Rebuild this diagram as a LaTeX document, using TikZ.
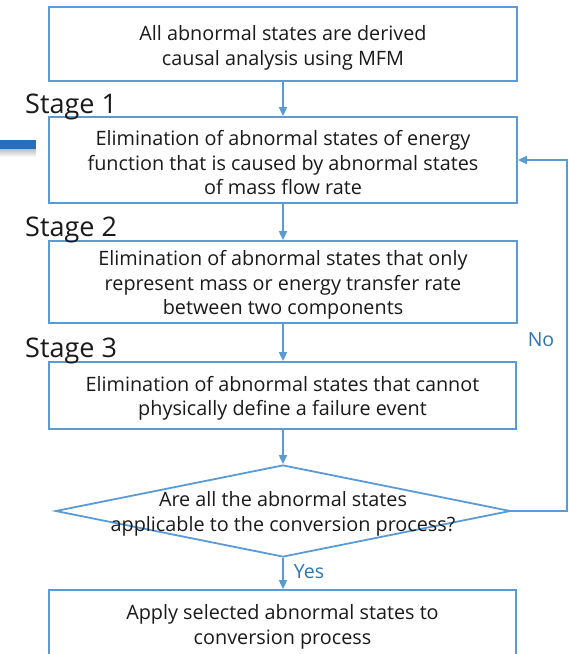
\documentclass[tikz,border=0pt]{standalone}
\usepackage{fontspec}
\setmainfont{Open Sans}
\usetikzlibrary{arrows.meta,shapes.geometric,positioning,fadings}
\definecolor{flowline}{HTML}{5B9BD5}
\definecolor{flowlabel}{HTML}{2E75B6}
\definecolor{bartone}{HTML}{2A6EBB}
\definecolor{ink}{HTML}{1A1A1A}
\tikzset{
  stepbox/.style={draw=flowline, line width=1.8pt, fill=white, rectangle,
    minimum width=468pt, inner sep=0pt},
  decision/.style={draw=flowline, line width=1.8pt, shape=diamond,
    minimum width=455pt, minimum height=92pt, inner sep=0pt},
  bodytext/.style={align=center, text=ink, inner sep=0pt,
    font=\fontsize{19.8}{24.5}\selectfont},
  stagelabel/.style={anchor=base west, inner sep=0pt, text=ink,
    font=\fontsize{27}{30}\selectfont},
  flowlabeltext/.style={inner sep=0pt, text=flowlabel,
    font=\fontsize{19.5}{22}\selectfont},
  flow/.style={draw=flowline, line width=1.8pt,
    -{Triangle[length=9pt,width=8pt]}},
}
\begin{document}
\begin{tikzpicture}[x=1pt,y=-1pt]
  \clip (0,0) rectangle (569,654);
  \fill[white] (0,0) rectangle (569,654);

  % partial bar at the left margin, with a soft shadow under it
  \fill[black!25, path fading=south] (0,149) rectangle (36,157);
  \fill[bartone] (0,140) rectangle (36,149);

  % process steps: frames first, then their captions
  \node[stepbox, minimum height=74pt] (b0) at (283,44) {};
  \node[stepbox, minimum height=86pt] (b1) at (283,160) {};
  \node[stepbox, minimum height=82pt] (b2) at (283,282) {};
  \node[stepbox, minimum height=67pt, minimum width=467pt] (b3) at (282.5,395.5) {};
  \node[decision] (dec) at (283,511) {};
  \node[stepbox, minimum height=68pt, minimum width=467pt] (b4) at (282.5,624) {};

  \node[bodytext, yshift=-4pt] (t0) at (b0.center)
    {All abnormal states are derived\\causal analysis using MFM};
  \node[bodytext, yshift=-3pt] (t1) at (b1.center)
    {Elimination of abnormal states of energy\\function that is caused by abnormal states\\of mass flow rate};
  \node[bodytext, yshift=-3pt] (t2) at (b2.center)
    {Elimination of abnormal states that only\\represent mass or energy transfer rate\\between two components};
  \node[bodytext, yshift=-3pt] (t3) at (b3.center)
    {Elimination of abnormal states that cannot\\physically define a failure event};
  \node[bodytext, yshift=-3pt] (tdec) at (dec.center)
    {Are all the abnormal states\\applicable to the conversion process?};
  \node[bodytext, yshift=-3pt] (t4) at (b4.center)
    {Apply selected abnormal states to\\conversion process};

  % stage labels
  \node[stagelabel] (s1) at (25,113) {Stage 1};
  \node[stagelabel] (s2) at (25,236) {Stage 2};
  \node[stagelabel] (s3) at (25,357) {Stage 3};

  % connectors
  \draw[flow] (b0.south) -- (b1.north);
  \draw[flow] (b1.south) -- (b2.north);
  \draw[flow] (b2.south -| b1.south) -- (b3.north -| b1.south);
  \draw[flow] (b3.south -| b1.south) -- (dec.north);
  \draw[flow] (dec.south) -- (b4.north -| dec.south)
    node[flowlabeltext, pos=0.45, anchor=west, xshift=10pt] (yes) {Yes};
  \coordinate (loopcorner) at (567,511);
  \draw[flow] (dec.east) -- (loopcorner) |- (b1.east);
  \node[flowlabeltext] (no) at (541,340) {No};
\end{tikzpicture}
\end{document}
